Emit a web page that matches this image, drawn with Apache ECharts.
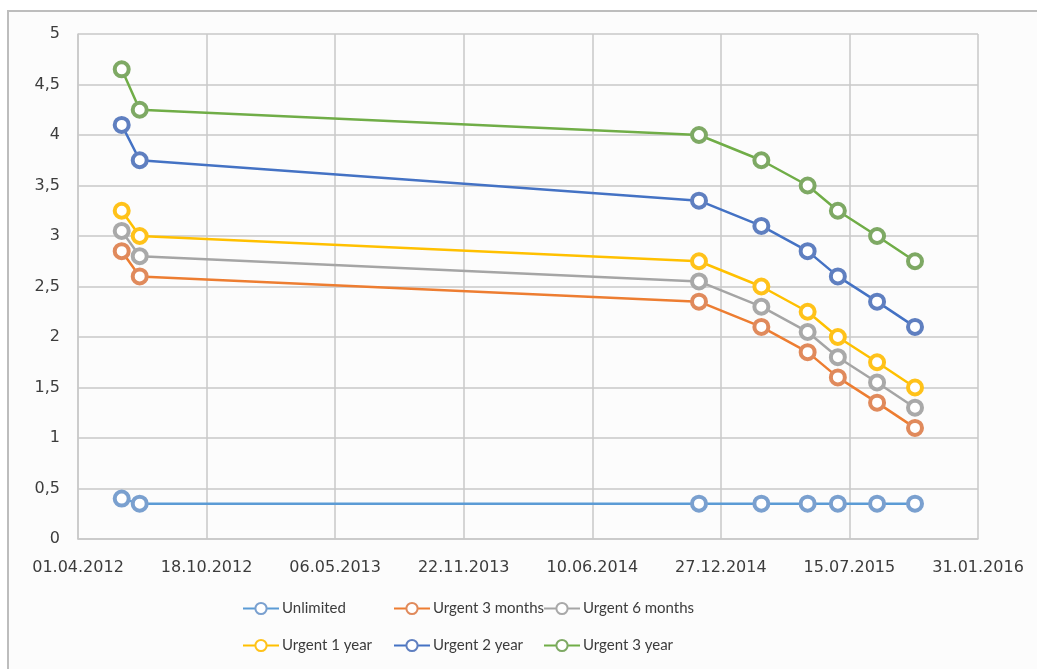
<!DOCTYPE html>
<html>
<head>
<meta charset="utf-8">
<script src="https://cdn.jsdelivr.net/npm/echarts@6/dist/echarts.min.js"></script>
<style>
html,body{margin:0;padding:0;background:#ffffff;}
#chart{width:1037px;height:669px;}
</style>
</head>
<body>
<div id="chart"></div>
<script>
// Dates of observations (dd.mm.yyyy)
const dates = ['08.06.2012','06.07.2012','23.11.2014','28.02.2015','11.05.2015','27.06.2015','27.08.2015','25.10.2015'];
const seriesNames = ['Unlimited','Urgent 3 months','Urgent 6 months','Urgent 1 year','Urgent 2 year','Urgent 3 year'];
const unlimited   = [0.40, 0.35, 0.35, 0.35, 0.35, 0.35, 0.35, 0.35];
const urgent3m    = [2.85, 2.60, 2.35, 2.10, 1.85, 1.60, 1.35, 1.10];
const urgent6m    = [3.05, 2.80, 2.55, 2.30, 2.05, 1.80, 1.55, 1.30];
const urgent1y    = [3.25, 3.00, 2.75, 2.50, 2.25, 2.00, 1.75, 1.50];
const urgent2y    = [4.10, 3.75, 3.35, 3.10, 2.85, 2.60, 2.35, 2.10];
const urgent3y    = [4.65, 4.25, 4.00, 3.75, 3.50, 3.25, 3.00, 2.75];
const colors      = ['#5B9BD5','#ED7D31','#A5A5A5','#FFC000','#4472C4','#70AD47'];
const markerColors= ['#7aa0cf','#e08a5c','#a9a9a9','#ffc21a','#5f7fc0','#7ea964'];
// x axis: Excel serial days, 01.04.2012 .. 31.01.2016 step 200
const xMin = 41000, xMax = 42400, xStep = 200;
const yTicks = ['0','0,5','1','1,5','2','2,5','3','3,5','4','4,5','5'];

function toSerial(s){
  const p = s.split('.');
  const t = Date.UTC(+p[2], +p[1]-1, +p[0]);
  return Math.round(t/86400000) + 25569;
}
function fromSerial(n){
  const d = new Date((n-25569)*86400000);
  const dd = String(d.getUTCDate()).padStart(2,'0');
  const mm = String(d.getUTCMonth()+1).padStart(2,'0');
  return dd+'.'+mm+'.'+d.getUTCFullYear();
}
const xs = dates.map(toSerial);
const allValues = [unlimited, urgent3m, urgent6m, urgent1y, urgent2y, urgent3y];

const chart = echarts.init(document.getElementById('chart'));
const font = 'Lato, "Liberation Sans", "DejaVu Sans", sans-serif';
const axisFont = '"DejaVu Sans", Lato, sans-serif';
const legendPos = [[242,601],[393,601],[543,601],[242,638],[393,638],[543,638]];
chart.setOption({
  backgroundColor: '#ffffff',
  animation: false,
  textStyle: {fontFamily: font},
  graphic: [{
    type: 'rect', z: -10,
    shape: {x: 8, y: 11, width: 1040, height: 670},
    style: {fill: '#fcfcfc', stroke: '#bdbdbd', lineWidth: 2}
  }],
  grid: {left: 78, right: 59, top: 34, bottom: 130, containLabel: false},
  xAxis: {
    type: 'value', min: xMin, max: xMax, interval: xStep,
    axisLine: {show: true, lineStyle: {color: '#c8c8c8', width: 1.5}},
    axisTick: {show: false},
    splitLine: {show: true, lineStyle: {color: '#c8c8c8', width: 1.5}},
    axisLabel: {color: '#3c3c3c', fontSize: 16, margin: 21, fontFamily: axisFont,
      formatter: v => fromSerial(v)}
  },
  yAxis: {
    type: 'value', min: 0, max: 5, interval: 0.5,
    axisLine: {show: true, lineStyle: {color: '#c8c8c8', width: 1.5}},
    axisTick: {show: false},
    splitLine: {show: true, lineStyle: {color: '#c8c8c8', width: 1.5}},
    axisLabel: {color: '#3c3c3c', fontSize: 16, margin: 18, fontFamily: axisFont,
      formatter: v => yTicks[Math.round(v*2)]}
  },
  legend: seriesNames.map((n, i) => ({
    data: [n], left: legendPos[i][0], top: legendPos[i][1], padding: 0,
    itemWidth: 36, itemHeight: 14, itemGap: 0,
    textStyle: {color: '#3c3c3c', fontSize: 15, fontFamily: font, padding: [0,0,0,-2]}
  })),
  series: allValues.map((vals, i) => ({
    name: seriesNames[i],
    type: 'line',
    data: vals.map((v, j) => [xs[j], v]),
    color: colors[i],
    lineStyle: {color: colors[i], width: 2.5},
    symbol: 'circle',
    symbolSize: 14,
    itemStyle: {color: '#ffffff', borderColor: markerColors[i], borderWidth: 4},
    z: 2 + i
  }))
});
</script>
</body>
</html>
